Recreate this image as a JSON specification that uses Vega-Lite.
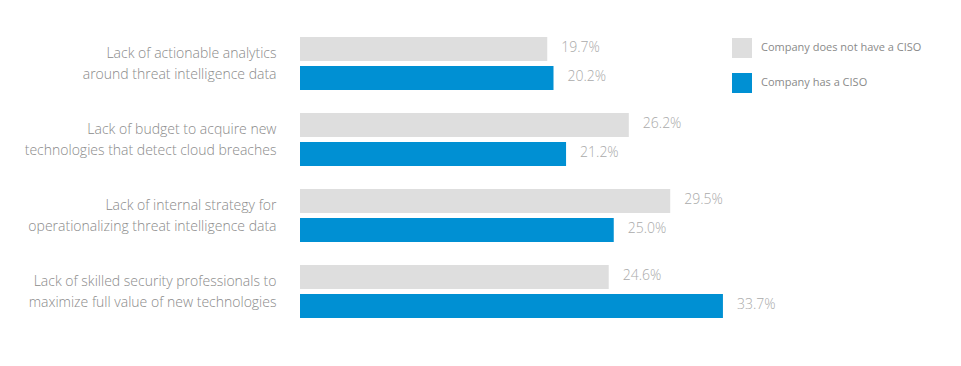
{
  "$schema": "https://vega.github.io/schema/vega-lite/v6.json",
  "width": 502,
  "height": 304,
  "autosize": "none",
  "padding": {"left": 300, "top": 25.5, "right": 159, "bottom": 36.5},
  "background": "white",
  "config": {"view": {"stroke": null}, "font": "Open Sans"},
  "data": {
    "values": [
      {"challenge": "Lack of actionable analytics|around threat intelligence data", "group": "Company does not have a CISO", "value": 19.7, "label": "19.7%"},
      {"challenge": "Lack of actionable analytics|around threat intelligence data", "group": "Company has a CISO", "value": 20.2, "label": "20.2%"},
      {"challenge": "Lack of budget to acquire new|technologies that detect cloud breaches", "group": "Company does not have a CISO", "value": 26.2, "label": "26.2%"},
      {"challenge": "Lack of budget to acquire new|technologies that detect cloud breaches", "group": "Company has a CISO", "value": 21.2, "label": "21.2%"},
      {"challenge": "Lack of internal strategy for|operationalizing threat intelligence data", "group": "Company does not have a CISO", "value": 29.5, "label": "29.5%"},
      {"challenge": "Lack of internal strategy for|operationalizing threat intelligence data", "group": "Company has a CISO", "value": 25.0, "label": "25.0%"},
      {"challenge": "Lack of skilled security professionals to|maximize full value of new technologies", "group": "Company does not have a CISO", "value": 24.6, "label": "24.6%"},
      {"challenge": "Lack of skilled security professionals to|maximize full value of new technologies", "group": "Company has a CISO", "value": 33.7, "label": "33.7%"}
    ]
  },
  "encoding": {
    "y": {
      "field": "challenge", "type": "nominal", "sort": null, "title": null,
      "scale": {"paddingInner": 0.3026, "paddingOuter": 0.1513},
      "axis": {
        "domain": false, "ticks": false, "labelPadding": 24,
        "labelExpr": "split(datum.label, '|')",
        "labelFontSize": 14, "labelColor": "#8a8a8a", "labelFontWeight": 300,
        "labelLineHeight": 21, "labelLimit": 400, "labelAlign": "right", "labelBaseline": "middle",
        "labelOffset": -10
      }
    },
    "yOffset": {
      "field": "group", "type": "nominal", "sort": ["Company does not have a CISO", "Company has a CISO"],
      "scale": {"paddingInner": 0.172, "paddingOuter": 0}
    },
    "x": {
      "field": "value", "type": "quantitative",
      "scale": {"domain": [0, 40], "nice": false},
      "axis": null
    }
  },
  "layer": [
    {
      "mark": {"type": "bar"},
      "encoding": {
        "color": {
          "field": "group", "type": "nominal",
          "sort": ["Company does not have a CISO", "Company has a CISO"],
          "scale": {"domain": ["Company does not have a CISO", "Company has a CISO"], "range": ["#dedede", "#0090d3"]},
          "legend": {
            "title": null, "orient": "none", "legendX": 432, "legendY": 12.5,
            "symbolType": "square", "symbolSize": 400, "symbolStrokeWidth": 0,
            "labelFontSize": 11, "labelColor": "#8a8a8a", "labelOffset": 9, "rowPadding": 15,
            "labelLimit": 300
          }
        }
      }
    },
    {
      "mark": {"type": "text", "align": "left", "baseline": "middle", "dx": 14, "dy": -1, "fontSize": 14, "color": "#aaaaaa", "fontWeight": 300},
      "encoding": {"text": {"field": "label"}}
    }
  ]
}
